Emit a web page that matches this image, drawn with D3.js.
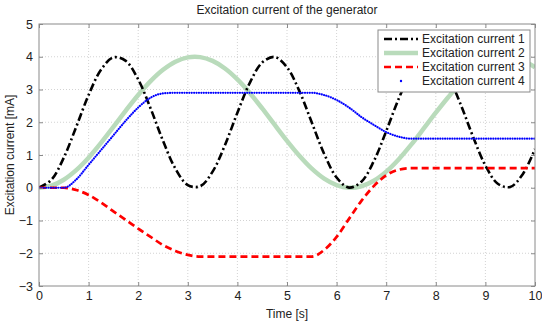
<!DOCTYPE html>
<html><head><meta charset="utf-8">
<script src="https://cdn.jsdelivr.net/npm/d3@7"></script>
<style>body{margin:0;background:#fff;} svg{display:block;font-family:"Liberation Sans",Arial,sans-serif;}</style>
</head><body>
<svg id="c" width="542" height="323"></svg>
<script>
const time = [0,0.25,0.5,0.75,1,1.25,1.5,1.75,2,2.25,2.5,2.75,3,3.25,3.5,3.75,4,4.25,4.5,4.75,5,5.25,5.5,5.75,6,6.25,6.5,6.75,7,7.25,7.5,7.75,8,8.25,8.5,8.75,9,9.25,9.5,9.75,10];
const current1 = [0,0.245,0.919,1.858,2.832,3.602,3.980,3.873,3.307,2.422,1.433,0.583,0.080,0.047,0.492,1.307,2.291,3.204,3.822,3.994,3.678,2.951,1.991,1.033,0.312,0.004,0.185,0.810,1.727,2.710,3.519,3.956,3.916,3.406,2.550,1.561,0.679,0.122,0.023,0.408,1.184];
const current2 = [0,0.062,0.245,0.537,0.919,1.369,1.859,2.356,2.832,3.256,3.602,3.849,3.980,3.988,3.873,3.641,3.307,2.892,2.422,1.925,1.433,0.977,0.583,0.278,0.080,0.000,0.047,0.214,0.492,0.864,1.307,1.796,2.291,2.763,3.204,3.575,3.822,3.967,3.994,3.892,3.678];
const current3 = [0,0,0,-0.07,-0.22,-0.45,-0.72,-0.98,-1.25,-1.5,-1.75,-1.93,-2.05,-2.1,-2.1,-2.1,-2.1,-2.1,-2.1,-2.1,-2.1,-2.1,-2.1,-1.9,-1.5,-0.95,-0.4,0.05,0.38,0.55,0.6,0.6,0.6,0.6,0.6,0.6,0.6,0.6,0.6,0.6,0.6];
const current4 = [0,0,0,0.25,0.7,1.15,1.6,2.05,2.45,2.75,2.88,2.9,2.9,2.9,2.9,2.9,2.9,2.9,2.9,2.9,2.9,2.9,2.9,2.83,2.68,2.45,2.16,1.92,1.7,1.56,1.5,1.5,1.5,1.5,1.5,1.5,1.5,1.5,1.5,1.5,1.5];
const seriesNames = ["Excitation current 1","Excitation current 2","Excitation current 3","Excitation current 4"];
const xTicks = [0,1,2,3,4,5,6,7,8,9,10];
const yTicks = [-3,-2,-1,0,1,2,3,4,5];

const svg = d3.select("#c");
const L=39, R=535, T=24, B=286;
const x = d3.scaleLinear().domain([0,10]).range([L,R]);
const y = d3.scaleLinear().domain([-3,5]).range([B,T]);
const axisCol = "#8a8a8a";

// grid
const g = svg.append("g");
g.selectAll(".gx").data(xTicks.slice(1,-1)).enter().append("line")
 .attr("x1",d=>x(d)).attr("x2",d=>x(d)).attr("y1",T).attr("y2",B)
 .attr("stroke","#c8c8c8").attr("stroke-width",0.8).attr("stroke-dasharray","1,2");
g.selectAll(".gy").data(yTicks.slice(1,-1)).enter().append("line")
 .attr("y1",d=>y(d)).attr("y2",d=>y(d)).attr("x1",L).attr("x2",R)
 .attr("stroke","#c8c8c8").attr("stroke-width",0.8).attr("stroke-dasharray","1,2");

const pts = arr => time.map((t,i)=>[t,arr[i]]);
const smooth = d3.line().x(d=>x(d[0])).y(d=>y(d[1])).curve(d3.curveCatmullRom.alpha(0.5));
const mono = d3.line().x(d=>x(d[0])).y(d=>y(d[1])).curve(d3.curveMonotoneX);
svg.append("clipPath").attr("id","cp").append("rect").attr("x",L).attr("y",T).attr("width",R-L).attr("height",B-T);
const plot = svg.append("g").attr("clip-path","url(#cp)");

const styles = [
 {data:current1, stroke:"#000", w:2.6, dash:"8,3,2,3", cap:"butt", gen:smooth},
 {data:current2, stroke:"#b9dbbb", w:4.5, dash:null, cap:"butt", gen:smooth},
 {data:current3, stroke:"#ff0000", w:2.7, dash:"7,4", cap:"butt", gen:mono},
 {data:current4, stroke:"#0000ff", w:2.2, dash:"0.01,2.4", cap:"round", gen:mono}
];
[1,0,2,3].forEach(i=>{
  const s=styles[i];
  plot.append("path").attr("d",s.gen(pts(s.data))).attr("fill","none")
   .attr("stroke",s.stroke).attr("stroke-width",s.w)
   .attr("stroke-dasharray",s.dash).attr("stroke-linecap",s.cap);
});

// axes box
svg.append("rect").attr("x",L).attr("y",T).attr("width",R-L).attr("height",B-T)
 .attr("fill","none").attr("stroke",axisCol).attr("stroke-width",1);
const xb = svg.append("g").attr("transform",`translate(0,${B})`)
 .call(d3.axisBottom(x).tickValues(xTicks).tickSize(-4).tickPadding(5).tickFormat(d3.format("d")));
const xt = svg.append("g").attr("transform",`translate(0,${T})`)
 .call(d3.axisTop(x).tickValues(xTicks).tickSize(-4).tickFormat(""));
const yl = svg.append("g").attr("transform",`translate(${L},0)`)
 .call(d3.axisLeft(y).tickValues(yTicks).tickSize(-4).tickPadding(6).tickFormat(d3.format("d")));
const yr = svg.append("g").attr("transform",`translate(${R},0)`)
 .call(d3.axisRight(y).tickValues(yTicks).tickSize(-4).tickFormat(""));
[xb,xt,yl,yr].forEach(a=>{
  a.select(".domain").remove();
  a.selectAll("line").attr("stroke",axisCol);
  a.selectAll("text").attr("fill","#222").style("font-size","12.5px").style("font-family","'Liberation Sans',Arial,sans-serif");
});

// labels
svg.append("text").attr("x",(L+R)/2).attr("y",14).attr("text-anchor","middle")
 .style("font-size","12px").attr("fill","#222").text("Excitation current of the generator");
svg.append("text").attr("x",(L+R)/2).attr("y",318).attr("text-anchor","middle")
 .style("font-size","12px").attr("fill","#222").text("Time [s]");
svg.append("text").attr("transform",`translate(14,${(T+B)/2}) rotate(-90)`).attr("text-anchor","middle")
 .style("font-size","12px").attr("fill","#222").text("Excitation current [mA]");

// legend
const lg = svg.append("g");
lg.append("rect").attr("x",378).attr("y",30).attr("width",152).attr("height",62)
 .attr("fill","#fff").attr("stroke",axisCol).attr("stroke-width",1);
seriesNames.forEach((n,i)=>{
  const yy = 39+i*14, s=styles[i];
  if(i===3){
    lg.append("circle").attr("cx",401).attr("cy",yy).attr("r",1.2).attr("fill","#0000ff");
  } else {
    lg.append("line").attr("x1",384).attr("x2",418).attr("y1",yy).attr("y2",yy)
     .attr("stroke",s.stroke).attr("stroke-width",s.w).attr("stroke-dasharray",s.dash);
  }
  lg.append("text").attr("x",422).attr("y",yy+4).style("font-size","12px").attr("fill","#222").text(n);
});
</script>
</body></html>
